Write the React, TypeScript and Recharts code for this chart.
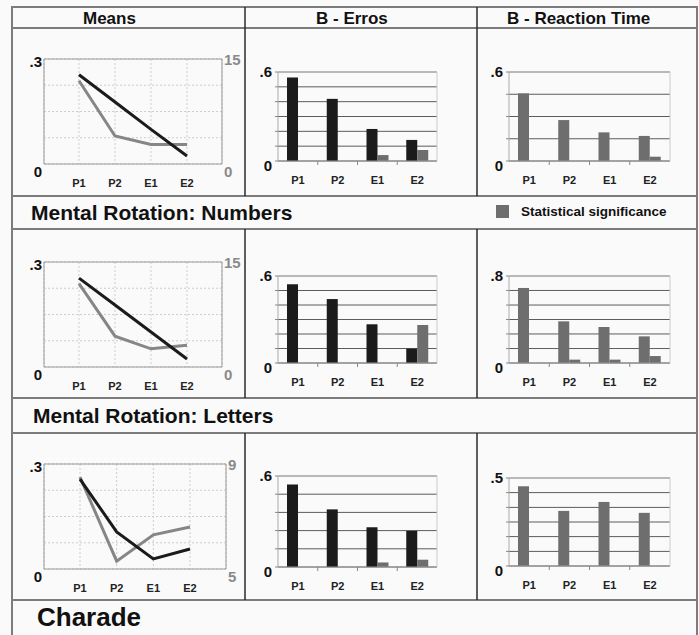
import {
  LineChart,
  Line,
  BarChart,
  Bar,
  XAxis,
  YAxis,
  CartesianGrid,
  ReferenceLine,
} from "recharts";

const FONT = '"Liberation Sans", Arial, Helvetica, sans-serif';

// shared categories
const categories = ["P1", "P2", "E1", "E2"];

// Means: black line on left axis, grey line on right axis
const numbersMeanBlack = [0.255, 0.177, 0.099, 0.023];
const numbersMeanGrey = [11.9, 4.0, 2.8, 2.8];
const lettersMeanBlack = [0.254, 0.177, 0.1, 0.023];
const lettersMeanGrey = [11.9, 4.4, 2.6, 3.1];
const charadeMeanBlack = [0.257, 0.106, 0.029, 0.057];
const charadeMeanGrey = [8.5, 5.3, 6.3, 6.6];

// B - Erros
const numbersErrosB = [0.563, 0.419, 0.216, 0.142];
const numbersErrosSig = [0, 0, 0.04, 0.074];
const lettersErrosB = [0.543, 0.441, 0.267, 0.099];
const lettersErrosSig = [0, 0, 0, 0.262];
const charadeErrosB = [0.544, 0.38, 0.262, 0.238];
const charadeErrosSig = [0, 0, 0.03, 0.048];

// B - Reaction Time
const numbersRtB = [0.456, 0.276, 0.193, 0.169];
const numbersRtSig = [0, 0, 0, 0.029];
const lettersRtB = [0.69, 0.383, 0.331, 0.245];
const lettersRtSig = [0, 0.031, 0.031, 0.064];
const charadeRtB = [0.453, 0.313, 0.364, 0.302];
const charadeRtSig = [0, 0, 0, 0];

// axis ticks
const meansLeftTicks = [0, 0.075, 0.15, 0.225, 0.3];
const meansRightTicks15 = [0, 15];
const meansRightTicks59 = [5, 9];
const ticksTenths6 = [0, 0.1, 0.2, 0.3, 0.4, 0.5, 0.6];
const ticksQuarters6 = [0, 0.15, 0.3, 0.45, 0.6];
const ticksSixths8 = [0, 0.133, 0.267, 0.4, 0.533, 0.667, 0.8];
const ticksFifths6 = [0, 0.12, 0.24, 0.36, 0.48, 0.6];
const ticksSixths5 = [0, 0.083, 0.167, 0.25, 0.333, 0.417, 0.5];

const BLACK = "#1b1b1b";
const GREY = "#6e6e6e";
const LINE_GREY = "#868686";

const fmt = (v: number) => (v > 0 && v < 1 ? String(v).replace(/^0/, "") : String(v));

function EndTick(props: any) {
  const { x, y, payload, lo, hi, labelColor, dyTop, dyBottom, anchor } = props;
  const v = payload.value;
  if (v !== lo && v !== hi) return <g />;
  return (
    <text
      x={x}
      y={y + (v === hi ? dyTop : dyBottom)}
      textAnchor={anchor}
      dominantBaseline="central"
      fill={labelColor}
      fontSize={15}
      fontWeight="bold"
      fontFamily={FONT}
    >
      {fmt(v)}
    </text>
  );
}

function CatTick(props: any) {
  const { x, y, payload, index, marks } = props;
  const half = payload.offset || 20;
  return (
    <g>
      {marks && index < categories.length - 1 && (
        <line x1={x + half} x2={x + half} y1={y} y2={y + 4} stroke="#888" />
      )}
      <text
        x={x}
        y={y + 19}
        textAnchor="middle"
        dominantBaseline="central"
        fontSize={11}
        fontWeight="bold"
        fontFamily={FONT}
        fill="#222"
      >
        {payload.value}
      </text>
    </g>
  );
}

type MeansProps = {
  top: number;
  black: number[];
  grey: number[];
  rightTicks: number[];
  rightWidth: number;
  pad: number;
};

function MeansPanel({ top, black, grey, rightTicks, rightWidth, pad }: MeansProps) {
  const data = categories.map((c, i) => ({ cat: c, black: black[i], grey: grey[i] }));
  const lo = rightTicks[0];
  const hi = rightTicks[rightTicks.length - 1];
  return (
    <div style={{ position: "absolute", left: 0, top }}>
      <LineChart width={245} height={155} data={data} margin={{ top: 20, right: 0, bottom: 0, left: 0 }}>
        <CartesianGrid stroke="#cdcdcd" strokeDasharray="2 2" />
        <XAxis
          dataKey="cat"
          padding={{ left: pad, right: pad }}
          height={30}
          axisLine={{ stroke: "#9a9a9a" }}
          tickLine={false}
          tickSize={0}
          tickMargin={0}
          interval={0}
          tick={<CatTick />}
        />
        <YAxis
          width={44}
          domain={[0, 0.3]}
          ticks={meansLeftTicks}
          interval={0}
          axisLine={{ stroke: "#9a9a9a" }}
          tickLine={false}
          tickSize={0}
          tickMargin={2}
          tick={<EndTick lo={0} hi={0.3} labelColor="#111" dyTop={2} dyBottom={7} anchor="end" />}
        />
        <YAxis
          yAxisId="r"
          orientation="right"
          width={rightWidth}
          domain={[lo, hi]}
          ticks={rightTicks}
          interval={0}
          axisLine={{ stroke: "#9a9a9a" }}
          tickLine={false}
          tickSize={0}
          tickMargin={2}
          tick={<EndTick lo={lo} hi={hi} labelColor="#8a8a8a" dyTop={0} dyBottom={7} anchor="start" />}
        />
        <ReferenceLine y={0.3} stroke="#9a9a9a" />
        <Line dataKey="grey" yAxisId="r" stroke={LINE_GREY} strokeWidth={3} dot={false} isAnimationActive={false} />
        <Line dataKey="black" stroke={BLACK} strokeWidth={3} dot={false} isAnimationActive={false} />
      </LineChart>
    </div>
  );
}

type BarProps = {
  left: number;
  top: number;
  width: number;
  height: number;
  yWidth: number;
  rWidth: number;
  ticks: number[];
  b: number[];
  sig: number[];
  bColor: string;
};

function BarPanel({ left, top, width, height, yWidth, rWidth, ticks, b, sig, bColor }: BarProps) {
  const data = categories.map((c, i) => ({ cat: c, b: b[i], sig: sig[i] }));
  const lo = ticks[0];
  const hi = ticks[ticks.length - 1];
  return (
    <div style={{ position: "absolute", left, top }}>
      <BarChart
        width={width}
        height={height}
        data={data}
        margin={{ top: 20, right: 0, bottom: 0, left: 0 }}
        barGap={0}
        barSize={11}
      >
        <CartesianGrid vertical={false} stroke="#5c5c5c" />
        <XAxis
          dataKey="cat"
          height={30}
          axisLine={{ stroke: "#9a9a9a" }}
          tickLine={false}
          tickSize={0}
          tickMargin={0}
          interval={0}
          tick={<CatTick marks />}
        />
        <YAxis
          width={yWidth}
          domain={[lo, hi]}
          ticks={ticks}
          interval={0}
          axisLine={{ stroke: "#aaaaaa" }}
          tickLine={{ stroke: "#888" }}
          tickSize={3}
          tickMargin={3}
          tick={<EndTick lo={lo} hi={hi} labelColor="#111" dyTop={-1} dyBottom={4} anchor="end" />}
        />
        <YAxis yAxisId="r" orientation="right" width={rWidth} axisLine={{ stroke: "#cccccc" }} tickLine={false} tick={false} />
        <ReferenceLine y={hi} stroke="#c6c6c6" />
        <Bar dataKey="b" fill={bColor} isAnimationActive={false} />
        <Bar dataKey="sig" fill={GREY} isAnimationActive={false} />
      </BarChart>
    </div>
  );
}

const hLines = [7, 28, 196, 229, 398, 433, 600];
const rowSpans = [
  [7, 196],
  [229, 398],
  [433, 600],
];

function Frame() {
  const txt = { fontFamily: FONT, fontWeight: "bold" as const, fill: "#111" };
  return (
    <svg width={699} height={635} style={{ position: "absolute", left: 0, top: 0 }}>
      {hLines.map((y) => (
        <line key={y} x1={12} x2={697} y1={y} y2={y} stroke="#7c7c7c" strokeWidth={2} />
      ))}
      <line x1={12} x2={12} y1={6} y2={635} stroke="#7c7c7c" strokeWidth={2} />
      <line x1={697} x2={697} y1={6} y2={635} stroke="#7c7c7c" strokeWidth={2} />
      {rowSpans.map(([a, z]) =>
        [245, 477].map((x) => (
          <line key={`${a}-${x}`} x1={x} x2={x} y1={a} y2={z} stroke="#2a2a2a" strokeWidth={1.5} />
        ))
      )}
      <text x={83} y={24} fontSize={17} {...txt}>Means</text>
      <text x={316} y={24} fontSize={17} {...txt}>B - Erros</text>
      <text x={507} y={24} fontSize={17} {...txt}>B - Reaction Time</text>
      <text x={31} y={220} fontSize={21} {...txt}>Mental Rotation: Numbers</text>
      <rect x={496} y={205} width={13} height={13} fill={GREY} />
      <text x={521} y={216} fontSize={13.5} {...txt}>Statistical significance</text>
      <text x={33} y={423} fontSize={21} {...txt}>Mental Rotation: Letters</text>
      <text x={37} y={626} fontSize={26} {...txt}>Charade</text>
    </svg>
  );
}

export default function App() {
  return (
    <div
      style={{
        position: "absolute",
        left: 0,
        top: 0,
        width: 699,
        height: 635,
        background: "#fafafa",
        overflow: "hidden",
      }}
    >
      <Frame />
      <MeansPanel top={39} black={numbersMeanBlack} grey={numbersMeanGrey} rightTicks={meansRightTicks15} rightWidth={23} pad={35} />
      <MeansPanel top={242} black={lettersMeanBlack} grey={lettersMeanGrey} rightTicks={meansRightTicks15} rightWidth={23} pad={35} />
      <MeansPanel top={444} black={charadeMeanBlack} grey={charadeMeanGrey} rightTicks={meansRightTicks59} rightWidth={19} pad={36} />

      <BarPanel left={245} top={52} width={232} height={139} yWidth={33} rWidth={40} ticks={ticksTenths6} b={numbersErrosB} sig={numbersErrosSig} bColor={BLACK} />
      <BarPanel left={245} top={256} width={232} height={137} yWidth={33} rWidth={40} ticks={ticksTenths6} b={lettersErrosB} sig={lettersErrosSig} bColor={BLACK} />
      <BarPanel left={245} top={456} width={232} height={141} yWidth={33} rWidth={40} ticks={ticksFifths6} b={charadeErrosB} sig={charadeErrosSig} bColor={BLACK} />

      <BarPanel left={477} top={52} width={220} height={139} yWidth={32} rWidth={27} ticks={ticksQuarters6} b={numbersRtB} sig={numbersRtSig} bColor={GREY} />
      <BarPanel left={477} top={256} width={220} height={137} yWidth={32} rWidth={27} ticks={ticksSixths8} b={lettersRtB} sig={lettersRtSig} bColor={GREY} />
      <BarPanel left={477} top={458} width={220} height={138} yWidth={32} rWidth={27} ticks={ticksSixths5} b={charadeRtB} sig={charadeRtSig} bColor={GREY} />
    </div>
  );
}
